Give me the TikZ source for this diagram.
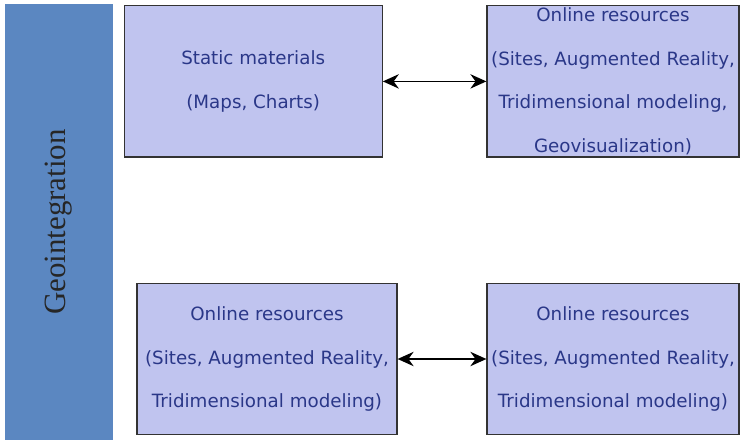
\documentclass[tikz,border=0pt]{standalone}
\usepackage{fontspec}
\setmainfont{DejaVu Sans}
\newfontfamily\barfont{Liberation Serif}
\usepackage{xcolor}
\usetikzlibrary{arrows.meta,positioning}

\definecolor{barblue}{HTML}{5B87C1}
\definecolor{boxfill}{HTML}{C0C4EF}
\definecolor{boxtext}{HTML}{2A3788}

\begin{document}
\begin{tikzpicture}[
  res/.style={draw=black!80, line width=0.9pt, fill=boxfill, align=center, text=boxtext, inner sep=1pt,
    font=\fontsize{13}{31}\selectfont, minimum height=3.78cm},
  arr/.style={{Stealth[length=4mm,width=3.6mm]}-{Stealth[length=4mm,width=3.6mm]}, line width=1.1pt}
]
\useasboundingbox (0,0) rectangle (18.5,11.075);
\node[fill=barblue, minimum width=2.7cm, minimum height=10.9cm, inner sep=0] (geo) at (1.475,5.525) {};
\node[rotate=90, font=\barfont\fontsize{22}{26}\selectfont, text=black!85] (geolbl) at (geo.center) {Geointegration};
\node[res, minimum width=6.45cm] (static) at (6.33,9.04) {Static materials\\(Maps, Charts)};
\node[res, minimum width=6.3cm] (online1) at (15.325,9.04) {Online resources\\(Sites, Augmented Reality,\\Tridimensional modeling,\\Geovisualization)};
\node[res, minimum width=6.5cm] (online2) at (6.675,2.1) {Online resources\\(Sites, Augmented Reality,\\Tridimensional modeling)};
\node[res, minimum width=6.3cm] (online3) at (15.325,2.1) {Online resources\\(Sites, Augmented Reality,\\Tridimensional modeling)};
\draw[arr] (static) -- (online1);
\draw[arr] (online2) -- (online3);
\end{tikzpicture}
\end{document}
